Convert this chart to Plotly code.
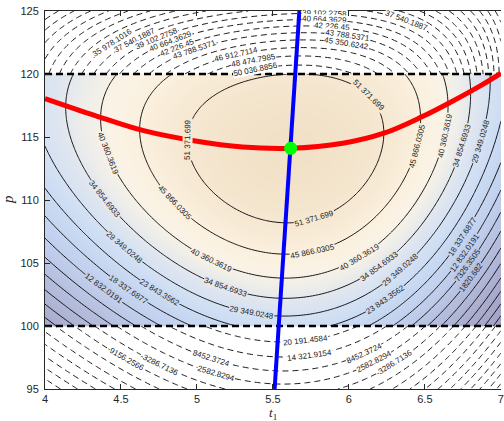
import numpy as np
import plotly.graph_objects as go

# ---------------- values ----------------
# profit surface model parameters (fitted to contour positions)
T_OPT = 5.618      # t1 at optimum
P_OPT = 114.1      # p at optimum
Z_MAX = 56782.0    # value at optimum
B_T2 = 13142.0     # curvature in t1 along the ridge
C_T3 = 2130.0      # skew in t1 along the ridge
A_P2 = 155.0       # curvature in p
RIDGE_COEF = [0.447, 2.3, 0.35]   # ridge p*(t1) polynomial in (t1-T_OPT)

# contour levels (labelled) in each region
LEVELS_MID = [1820.682, 7326.3505, 12832.0191, 18337.6877, 23843.3562,
              29349.0248, 34854.6933, 40360.3619, 45866.0305, 51371.699]
STEP_MID = 5505.66856
LEVELS_TOP = [35978.1016, 37540.1887, 39102.2758, 40664.3629, 42226.45,
              43788.5371, 45350.6242, 46912.7114, 48474.7985, 50036.8856]
STEP_TOP = 1562.08711
LEVELS_BOT = [-9156.2566, -3286.7136, 2582.8294, 8452.3724, 14321.9154, 20191.4584]
STEP_BOT = 5869.543

# best-response curves and optimum
RED_T1 = [4.0, 4.33, 4.65, 4.98, 5.3, 5.618, 5.96, 6.23, 6.48, 6.675, 6.87, 7.0]
RED_P = [118.05, 116.7, 115.5, 114.7, 114.2, 114.1, 114.5, 115.3, 116.6, 117.8, 119.1, 120.05]
BLUE_P = [95.0, 114.1, 125.0]
BLUE_T1 = [5.511, 5.617, 5.674]
OPT_T1 = [5.617]
OPT_P = [114.1]

P_LOW, P_HIGH = 100.0, 120.0
X_RANGE = [4.0, 7.001]
Y_RANGE = [95.0, 125.0]
X_TICKS = [4, 4.5, 5, 5.5, 6, 6.5, 7]
X_TICKTEXT = ["4", "4.5", "5", "5.5", "6", "6.5", "7"]
Y_TICKS = [95, 100, 105, 110, 115, 120, 125]

# where the contour labels sit (approximate t1, p), by region and level index
LABEL_SPOTS_MID = [(9, 4.96, 114.8), (9, 6.11, 118.0), (9, 5.77, 108.7),
                   (8, 4.85, 109.75), (8, 6.45, 114.25), (8, 5.76, 106.0),
                   (7, 4.40, 113.6), (7, 6.65, 115.1), (7, 5.10, 105.3), (7, 6.06, 105.65),
                   (6, 4.40, 110.1), (6, 6.77, 114.2), (6, 5.19, 103.0), (6, 6.19, 104.9),
                   (5, 4.52, 106.2), (5, 5.36, 101.3), (5, 6.34, 104.5), (5, 6.91, 114.5),
                   (4, 4.75, 102.6), (4, 6.22, 102.5),
                   (3, 4.53, 102.6), (3, 6.75, 107.1),
                   (2, 4.37, 102.7), (2, 6.77, 105.8),
                   (1, 6.79, 104.7), (0, 6.80, 103.9)]
LABEL_SPOTS_TOP = [(0, 4.44, 122.6), (1, 4.57, 123.1), (1, 6.37, 124.05),
                   (2, 4.72, 123.35), (2, 5.84, 124.7), (3, 4.82, 122.7), (3, 5.84, 124.1),
                   (4, 4.87, 122.2), (4, 5.89, 123.6), (5, 4.99, 121.85), (5, 5.99, 122.9),
                   (6, 5.98, 122.2), (7, 5.26, 121.35), (8, 5.37, 121.1), (9, 5.38, 120.6)]
LABEL_SPOTS_BOT = [(5, 5.71, 99.2), (4, 5.74, 97.85), (3, 5.10, 97.6), (3, 6.09, 98.1),
                   (2, 5.12, 96.1), (2, 6.16, 97.35), (1, 4.74, 96.7), (1, 6.28, 97.5),
                   (0, 4.51, 97.0)]

# ---------------- surface ----------------
def surface(t, p):
    d = t - T_OPT
    g = Z_MAX - B_T2 * d**2 - C_T3 * d**3
    r = P_OPT + RIDGE_COEF[0] * d + RIDGE_COEF[1] * d**2 + RIDGE_COEF[2] * d**3
    return g - A_P2 * (p - r) ** 2

def grid(p0, p1, nt, npp):
    t = np.linspace(4.0, 7.0, nt)
    p = np.linspace(p0, p1, npp)
    T, P = np.meshgrid(t, p)
    return t, p, surface(T, P).astype(np.float32)

tm, pm, zm = grid(P_LOW, P_HIGH, 151, 101)
tu, pu, zu = grid(P_HIGH, Y_RANGE[1], 151, 31)
tl, pl, zl = grid(Y_RANGE[0], P_LOW, 151, 31)
th, ph, zh = grid(P_LOW, P_HIGH, 301, 201)

# colour map (value -> rgb)
CMAP_V = [-42000, -15000, 0, 12000, 22000, 28000, 33000, 37500, 41500, 46000, 51000, Z_MAX]
CMAP_RGB = [(160, 158, 192), (170, 172, 205), (180, 188, 220), (192, 206, 236),
            (200, 217, 242), (210, 224, 243), (222, 229, 240), (237, 237, 234),
            (250, 243, 230), (251, 240, 222), (246, 232, 210), (241, 225, 199)]
vmin, vmax = CMAP_V[0], CMAP_V[-1]
colorscale = [[(v - vmin) / (vmax - vmin), "rgb(%d,%d,%d)" % c] for v, c in zip(CMAP_V, CMAP_RGB)]

def cmap(v):
    arr = np.array(CMAP_RGB, dtype=float)
    return "rgb(%d,%d,%d)" % tuple(int(round(np.interp(v, CMAP_V, arr[:, k]))) for k in range(3))

FONT = "Liberation Sans"
LABEL_FONT = dict(family=FONT, size=8, color="#222222")

fig = go.Figure()
fig.add_trace(go.Heatmap(x=th, y=ph, z=zh, colorscale=colorscale, zmin=vmin, zmax=vmax,
                         zsmooth="best", showscale=False, hoverinfo="skip"))

def add_range(t, p, z, start, end, size, dash, width):
    fig.add_trace(go.Contour(
        x=t, y=p, z=z, autocontour=False, showscale=False, hoverinfo="skip",
        contours=dict(start=start, end=end, size=size, coloring="none", showlabels=False),
        line=dict(color="black", width=width, dash=dash, smoothing=1)))

DASH = "6px,4px"
add_range(tm, pm, zm, LEVELS_MID[0] - 8 * STEP_MID, LEVELS_MID[-1] + 1, STEP_MID, "solid", 0.9)
add_range(tu, pu, zu, LEVELS_TOP[0] - 10 * STEP_TOP, LEVELS_TOP[-1] + 1, STEP_TOP, DASH, 0.9)
add_range(tl, pl, zl, LEVELS_BOT[0] - 12 * STEP_BOT, LEVELS_BOT[-1] + 1, STEP_BOT, DASH, 0.9)

# region boundaries
for pb in (P_LOW, P_HIGH):
    fig.add_trace(go.Scatter(x=[4.0, 7.0], y=[pb, pb], mode="lines",
                             line=dict(color="black", width=2.5, dash="7px,4px"),
                             hoverinfo="skip", showlegend=False))

fig.add_trace(go.Scatter(x=RED_T1, y=RED_P, mode="lines", line=dict(color="#ff0000", width=5, shape="spline"),
                         hoverinfo="skip", showlegend=False))
fig.add_trace(go.Scatter(x=BLUE_T1, y=BLUE_P, mode="lines", line=dict(color="#0000ff", width=4),
                         hoverinfo="skip", showlegend=False))
fig.add_trace(go.Scatter(x=OPT_T1, y=OPT_P, mode="markers",
                         marker=dict(color="#00ff00", size=13, line=dict(width=0)),
                         hoverinfo="skip", showlegend=False))

# ---------------- contour labels (placed on the model's level lines) ----------------
SX = 459.0 / (X_RANGE[1] - X_RANGE[0])
SY = 378.0 / (Y_RANGE[1] - Y_RANGE[0])

def label_text(v):
    if abs(v) >= 10000:
        s = "{:,.4f}".format(v).rstrip("0").rstrip(".").replace(",", " ")
    else:
        s = "{:.4f}".format(v).rstrip("0").rstrip(".")
    return s

def grad(t, p):
    h1, h2 = 1e-4, 1e-3
    ft = (surface(t + h1, p) - surface(t - h1, p)) / (2 * h1)
    fp = (surface(t, p + h2) - surface(t, p - h2)) / (2 * h2)
    return ft, fp

def project(level, t, p, pmin, pmax):
    for _ in range(40):
        ft, fp = grad(t, p)
        gx, gy = ft / SX, fp / SY          # gradient per pixel
        g2 = gx * gx + gy * gy
        r = surface(t, p) - level
        step = -r / g2
        dx, dy = step * gx, step * gy       # pixels
        lim = 6.0
        n = np.hypot(dx, dy)
        if n > lim:
            dx, dy = dx * lim / n, dy * lim / n
        t = min(max(t + dx / SX, 4.02), 6.98)
        p = min(max(p + dy / SY, pmin), pmax)
    ft, fp = grad(t, p)
    ang = np.degrees(np.arctan2(ft / SX, fp / SY))
    if ang > 90:
        ang -= 180
    if ang <= -90:
        ang += 180
    return t, p, ang

def add_labels(levels, spots, pmin, pmax, bg_fn):
    for idx, t0, p0 in spots:
        v = levels[idx]
        t, p, ang = project(v, t0, p0, pmin + 0.25, pmax - 0.22)
        fig.add_annotation(x=t, y=p, xref="x", yref="y", text=label_text(v), showarrow=False,
                           textangle=ang, font=LABEL_FONT, bgcolor=bg_fn(v), borderpad=0,
                           xanchor="center", yanchor="middle")

add_labels(LEVELS_MID, LABEL_SPOTS_MID, P_LOW, P_HIGH, cmap)
add_labels(LEVELS_TOP, LABEL_SPOTS_TOP, P_HIGH, Y_RANGE[1], lambda v: "white")
add_labels(LEVELS_BOT, LABEL_SPOTS_BOT, Y_RANGE[0], P_LOW, lambda v: "white")

axis_common = dict(showgrid=False, zeroline=False, ticks="inside", ticklen=5, tickwidth=1,
                   tickcolor="#262626", showline=True, linecolor="#262626", linewidth=1,
                   tickfont=dict(family=FONT, size=11, color="#262626"))
fig.update_xaxes(range=X_RANGE, tickvals=X_TICKS, ticktext=X_TICKTEXT, mirror="ticks",
                 ticklabelstandoff=0, ticklabeloverflow="allow", **axis_common)
fig.update_yaxes(range=Y_RANGE, tickvals=Y_TICKS, mirror=False, ticklabelstandoff=3, **axis_common)

fig.add_annotation(text="<i>t</i><sub>1</sub>", xref="paper", yref="paper", x=(275 - 45) / 459, y=0,
                   yshift=-24.5, showarrow=False, font=dict(family="Liberation Serif", size=13, color="#262626"),
                   xanchor="center", yanchor="middle")
fig.add_annotation(text="<i>p</i>", xref="paper", yref="paper", x=0, y=0.5, xshift=-37,
                   textangle=-90, showarrow=False, xanchor="center", yanchor="middle",
                   font=dict(family="Liberation Serif", size=15, color="#262626"))

fig.update_layout(width=504, height=421, margin=dict(l=45, r=0, t=11, b=32),
                  plot_bgcolor="white", paper_bgcolor="white", showlegend=False)
fig.write_html("out.html")
